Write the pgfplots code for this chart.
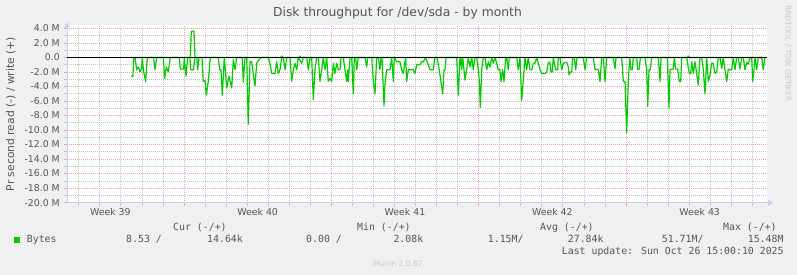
\documentclass[border=0pt]{standalone}
\usepackage{pgfplots}
\pgfplotsset{compat=1.18}
\usepackage{pgfplotstable}
\usepackage{fontspec}
\setmainfont{DejaVu Sans}
\newfontfamily\rrdmono{DejaVu Sans Mono}
\usetikzlibrary{arrows.meta}

\definecolor{rrdback}{HTML}{F0F0F0}
\definecolor{rrdfont}{HTML}{555555}
\definecolor{rrdaxis}{HTML}{C8CEF5}
\definecolor{rrdgrid}{HTML}{C4C4C4}
\definecolor{rrdmgrid}{HTML}{E8A4A4}
\definecolor{rrdline}{HTML}{00CC00}
\definecolor{rrdwater}{HTML}{C8C8C8}

% t: time position (week boundaries at 184, 331.33, 478.67, 626), v: MB/s (read negative)
\pgfplotstableread{
t v
131 -2.6
133 -2.6
133.7 0
135 0
136.7 -1.7
138.3 -1.3
140 -2.0
141.7 -1.5
142.3 0
143.3 -1.7
145.7 -3.3
147.3 0
153.7 0
155 -1.7
156.7 0
163.3 0
164.7 -2.9
166.3 -1.3
168.3 -2.0
170.3 0
179.3 0
180.3 -1.6
183.7 -1.6
184.3 0
186 -2.6
187.7 0
190 0
190.7 -1.7
193.7 -1.7
194.7 0
196.7 0
197.7 -1.7
199 0
202 0
203.3 -3.3
205 -3.2
206.3 -5.2
208.3 -3.3
210.3 0
218.3 0
219.7 -1.7
221 -1.7
222.3 -5.2
224.3 0
226.7 -4.2
229 -2.6
231.7 -4.2
233.3 -0.3
235 -1.7
236.7 0
242.3 0
243.3 -3.4
245 0
246.7 0
248.3 -9.2
250 -0.6
251.7 -0.6
253.3 -2.2
255 -3.9
256.7 -0.8
258.3 -0.4
261.7 0
268.3 0
270 -0.8
271.7 -2.2
275 -2.2
276.7 -0.6
278.3 -2.2
280 -1.7
281.7 0
283.3 0
285 -1.7
286.7 0
290 0
291.7 -3.3
293.3 -1.7
295 -0.8
296.7 -1.7
298.3 0
301.7 -0.8
303.3 0
306.7 0
308.3 -1.7
310 0
311.7 0
313.3 -5.8
315 -1.7
316.7 0
318.3 0
320 -3.3
321.7 -1.7
323.3 0
325 -1.7
326.7 0
328.3 -3.3
330 -2.9
331.7 -3.3
333.3 -0.8
335 -2.2
336.7 -0.8
338.3 -1.7
340 -1.7
341 0
343.3 0
345 -1.7
346.7 -3.3
347.7 -1.7
348.3 -3.3
350 0
351.7 0
353.3 -5.0
354.3 0
355.7 0
356.7 -1.7
358.3 0
365 0
366.7 -1.3
367.7 0
371.7 0
373.3 -3.3
375 -5.0
376.7 0
378.3 0
380 -1.7
381 0
382 0
384 -6.7
385 -3.6
386.7 -1.7
390 -1.7
391.7 0
393.3 -3.3
394.3 0
396.7 -0.6
400 -0.6
401.7 -1.7
403.3 -2.2
405 -0.6
405.7 0
406.7 -3.3
408.3 -1.7
413.3 -1.7
415 -2.2
416.7 -1.0
420 -1.0
421.7 -0.6
423.3 -0.6
425.7 0
430 -1.7
433.3 -1.7
435 0
437 0
439 -1.5
442.7 -5.0
444 -1.7
445 -1.7
446 0
456.7 0
458.3 -5.2
460 0
460.7 0
461.7 -1.7
462.7 0
464 -1.7
465 -3.1
466.7 -1.7
468.3 0
470 -1.3
471.7 0
473.3 -1.7
475 0
476.7 0
478.3 -1.7
479.3 -3.3
480.3 -6.9
481.7 -1.7
483.3 0
485 0
486.7 -1.7
488.3 -0.6
490 -1.3
491.7 0
493.3 -0.8
495 0
496.7 -0.8
498.3 -1.7
500 -1.7
501 -3.3
502.7 -1.7
504 -3.3
505.7 0
506.7 0
508.3 -1.7
509.3 0
516.7 0
518.3 -1.7
520 0
521.7 -5.9
523.3 -3.1
525 0
526.7 -1.7
528.3 0
530 -1.7
531.7 -1.7
533.3 -0.8
535 -0.8
536.7 0
538.3 -0.8
540 -1.7
541.7 -2.2
545 -2.2
546.7 -2.0
548.3 -0.7
550 -0.7
551 -2.0
552.3 -2.0
553.3 0
554.3 -0.8
555.7 -1.7
557.7 -1.7
558.3 0
560 0
561.7 -1.7
563.3 -0.8
565 -0.7
566.7 -0.7
568.3 -1.3
569 -2.4
570.3 -2.0
571.7 -2.0
572.7 0
574.3 0
575.7 -1.7
577 0
583.3 0
585 -1.7
586.7 0
593.3 0
595 -1.7
596.7 -1.6
598.3 -1.7
600 -3.3
601.7 0
603.3 0
605 -3.3
606.7 0
613.3 0
615 -1.6
616 0
621.7 0
623.3 -3.3
625 -3.3
626.7 -10.4
628.3 -3.3
629.7 0
631 -1.7
632.3 -1.7
633.3 0
636.7 0
637.7 -1.7
639.3 -1.6
640.3 0
645 0
646.7 -1.7
647.7 -6.7
649 -1.7
650.3 -1.7
651.7 0
658.3 0
660 -3.3
661 0
667.3 0
669 -6.9
670 -1.7
671.7 -1.6
673.3 -1.6
674.3 0
675.7 -1.6
677.7 -1.6
679.3 -3.3
680.7 -3.3
681.7 0
686.7 0
689.3 -2.2
690.7 -2.2
691.7 -0.6
693.3 -2.2
695 -0.6
696.7 -2.3
698.3 -3.8
700 0
701.7 0
703.3 -1.7
705 -5.0
706.7 0
708.3 -3.3
710 -2.4
711.7 -0.8
713.3 -0.8
715 -2.2
716.7 -2.0
718.3 0
720 0
721.7 -1.5
723.3 0
725 -1.7
726.7 -3.3
728.3 -1.6
730 -1.7
731.7 -1.7
733.3 0
735 -1.7
736.7 0
738.3 0
740 -1.6
741.7 0
743.3 0
745 -1.7
746.7 -0.7
748.3 -0.9
750 0
751.7 0
752.7 -3.3
754 -1.7
755 0
756.7 -1.7
758.3 0
761.7 0
763.3 -1.7
765 0
765.5 0
}\readdata

% write (positive)
\pgfplotstableread{
t v
131 0
190.3 0
191.3 3.6
194 3.6
195 0
280.7 0
281.7 0.2
282.7 0
299 0
300 0.2
301 0
687.3 0
688.3 0.2
689.3 0
765.5 0
}\writedata

\begin{document}
\begin{tikzpicture}
\fill[rrdback] (0,0) rectangle (797bp,275bp);
\begin{axis}[
  at={(67bp,72.3bp)}, anchor=south west,
  scale only axis, width=700bp, height=177.2bp,
  xmin=67, xmax=767, ymin=-20, ymax=4.4,
  axis lines=left,
  axis line style={draw=rrdaxis, line width=0.9bp},
  x axis line style={-{Triangle[length=5bp,width=6bp]}, shorten >=-6bp},
  y axis line style={-{Triangle[length=5bp,width=6bp]}, shorten >=-3bp},
  axis background/.style={fill=white},
  xtick={184,331.33,478.67,626},
  xticklabels={},
  minor xtick={78.76,99.81,120.86,141.90,162.95,205.05,226.10,247.14,268.19,289.24,310.29,352.38,373.43,394.48,415.52,436.57,457.62,499.71,520.76,541.81,562.86,583.90,604.95,647.05,668.10,689.14,710.19,731.24,752.29},
  extra x ticks={110.33,257.67,405,552.33,699.67},
  extra x tick labels={Week 39,Week 40,Week 41,Week 42,Week 43},
  extra x tick style={grid=none, major tick length=0pt},
  ytick={-20,-18,...,4},
  yticklabels={-20.0 M,-18.0 M,-16.0 M,-14.0 M,-12.0 M,-10.0 M,-8.0 M,-6.0 M,-4.0 M,-2.0 M,0.0,2.0 M,4.0 M},
  minor ytick={-19,-17,...,3},
  grid=both,
  major grid style={draw=rrdmgrid, line width=0.8bp, dash pattern=on 1bp off 1bp},
  minor grid style={draw=rrdgrid, line width=0.8bp, dash pattern=on 1bp off 1bp},
  tick align=outside,
  major tick length=3bp, minor tick length=3bp,
  major tick style={draw=rrdmgrid, line width=0.8bp},
  minor tick style={draw=rrdgrid, line width=0.8bp},
  tick label style={font=\fontsize{9.4}{11}\selectfont, text=rrdfont, inner sep=0pt},
  yticklabel style={anchor=base east, xshift=-4bp, yshift=-3.3bp},
  xticklabel style={anchor=base, yshift=-12.6bp},
  ylabel={Pr second read (-) / write (+)},
  ylabel style={at={(rel axis cs:-0.0803,0.5)}, anchor=center, inner sep=0pt, font=\fontsize{10.8}{12}\selectfont, text=rrdfont},
  title={Disk throughput for /dev/sda - by month},
  title style={at={(rel axis cs:0.4721,1.0169)}, anchor=base, inner sep=0pt, font=\fontsize{12.4}{14}\selectfont, text=rrdfont},
  clip=true,
]
\addplot[rrdline, line width=1.2bp, line join=round] table[x=t, y=v] {\readdata};
\addplot[rrdline, line width=1.2bp, line join=round] table[x=t, y=v] {\writedata};
\addplot[black, line width=0.9bp] coordinates {(67,0) (767,0)};
\end{axis}
% legend block
\begin{scope}[every node/.style={inner sep=0pt, text=rrdfont, font=\rrdmono\fontsize{9.9}{11}\selectfont}]
\node[anchor=base west] at (173bp,44.3bp) {Cur (-/+)};
\node[anchor=base west] at (357bp,44.3bp) {Min (-/+)};
\node[anchor=base west] at (540bp,44.3bp) {Avg (-/+)};
\node[anchor=base west] at (723bp,44.3bp) {Max (-/+)};
\fill[rrdline] (14bp,32.3bp) rectangle (20bp,38.3bp);
\node[anchor=base west] at (26.7bp,32.3bp) {Bytes};
\node[anchor=base west] at (126bp,32.3bp) {8.53 /};
\node[anchor=base west] at (207bp,32.3bp) {14.64k};
\node[anchor=base west] at (306bp,32.3bp) {0.00 /};
\node[anchor=base west] at (393.3bp,32.3bp) {2.08k};
\node[anchor=base west] at (487.7bp,32.3bp) {1.15M/};
\node[anchor=base west] at (567.7bp,32.3bp) {27.84k};
\node[anchor=base west] at (661.7bp,32.3bp) {51.71M/};
\node[anchor=base west] at (747.7bp,32.3bp) {15.48M};
\node[anchor=base west] at (561.7bp,20.7bp) {Last update: Sun Oct 26 15:00:10 2025};
\end{scope}
\node[anchor=base, inner sep=0pt, text=rrdwater, font=\fontsize{7.6}{9}\selectfont] at (398bp,8.3bp) {Munin 2.0.67};
\node[rotate=-90, inner sep=0pt, text=rrdwater, font=\fontsize{7.5}{9}\selectfont] at (788bp,221.5bp) {RRDTOOL / TOBI OETIKER};
\end{tikzpicture}
\end{document}
